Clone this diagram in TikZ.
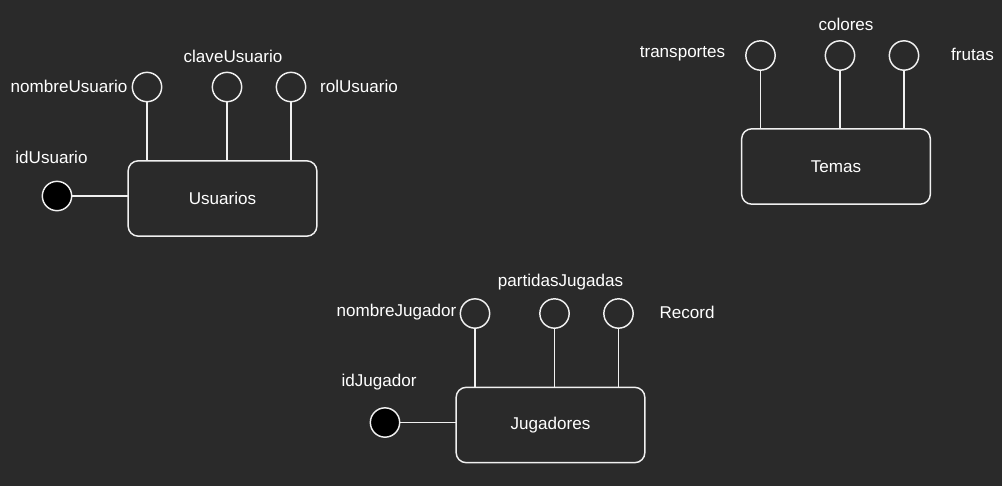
\documentclass[tikz,border=0pt]{standalone}
\usepackage{fontspec}
\setmainfont{Liberation Sans}
\definecolor{fondo}{HTML}{2A2A2A}
\definecolor{trazo}{HTML}{F0F0F0}
\begin{document}
\begin{tikzpicture}[x=0.75pt, y=-0.75pt, line cap=round, line join=round,
    entidad/.style={draw=trazo, line width=1.1pt, rounded corners=7.5pt,
        minimum width=141.5pt, minimum height=56.5pt, text=white, font=\fontsize{12.8}{15}\selectfont},
    atributo/.style={circle, draw=trazo, line width=1.1pt, minimum size=22pt, inner sep=0pt},
    clave/.style={atributo, fill=black},
    texto/.style={text=white, inner sep=0pt, font=\fontsize{12.8}{15}\selectfont},
    enlace/.style={draw=trazo, line width=1.1pt}]

    % Fondo
    \fill[fondo] (0,0) rectangle (1002,486);
    \useasboundingbox (0,0) rectangle (1002,486);

    % Entidad Usuarios
    \node[entidad] (usuarios) at (222.5,198.5) {Usuarios};
    \node[atributo] (nombreU) at (147,87) {};
    \node[atributo] (claveU) at (227,87) {};
    \node[atributo] (rolU) at (291,87) {};
    \node[clave] (idU) at (57,196) {};
    \draw[enlace] (nombreU) -- (nombreU |- usuarios.north);
    \draw[enlace] (claveU) -- (claveU |- usuarios.north);
    \draw[enlace] (rolU) -- (rolU |- usuarios.north);
    \draw[enlace] (idU) -- (idU -| usuarios.west);
    \node[texto] (tNombreU) at (69,86) {nombreUsuario};
    \node[texto] (tClaveU) at (233,56) {claveUsuario};
    \node[texto] (tRolU) at (359,86) {rolUsuario};
    \node[texto] (tIdU) at (51.5,157) {idUsuario};

    % Entidad Temas
    \node[entidad] (temas) at (836,166.5) {Temas};
    \node[atributo] (transp) at (760.5,55.5) {};
    \node[atributo] (colores) at (840,55.5) {};
    \node[atributo] (frutas) at (904,55.5) {};
    \draw[enlace] (transp) -- (transp |- temas.north);
    \draw[enlace] (colores) -- (colores |- temas.north);
    \draw[enlace] (frutas) -- (frutas |- temas.north);
    \node[texto] (tTransp) at (682.5,54) {transportes};
    \node[texto] (tColores) at (846,24) {colores};
    \node[texto] (tFrutas) at (972.5,54) {frutas};

    % Entidad Jugadores
    \node[entidad] (jugadores) at (550.5,425) {Jugadores};
    \node[atributo] (nombreJ) at (475,313.5) {};
    \node[atributo] (partidas) at (554.5,313.5) {};
    \node[atributo] (record) at (618.5,313.5) {};
    \node[clave] (idJ) at (385,422.5) {};
    \draw[enlace] (nombreJ) -- (nombreJ |- jugadores.north);
    \draw[enlace] (partidas) -- (partidas |- jugadores.north);
    \draw[enlace] (record) -- (record |- jugadores.north);
    \draw[enlace] (idJ) -- (idJ -| jugadores.west);
    \node[texto] (tNombreJ) at (396.5,312) {nombreJugador};
    \node[texto] (tPartidas) at (560.5,282) {partidasJugadas};
    \node[texto] (tRecord) at (687,312) {Record};
    \node[texto] (tIdJ) at (379,382) {idJugador};

\end{tikzpicture}
\end{document}
